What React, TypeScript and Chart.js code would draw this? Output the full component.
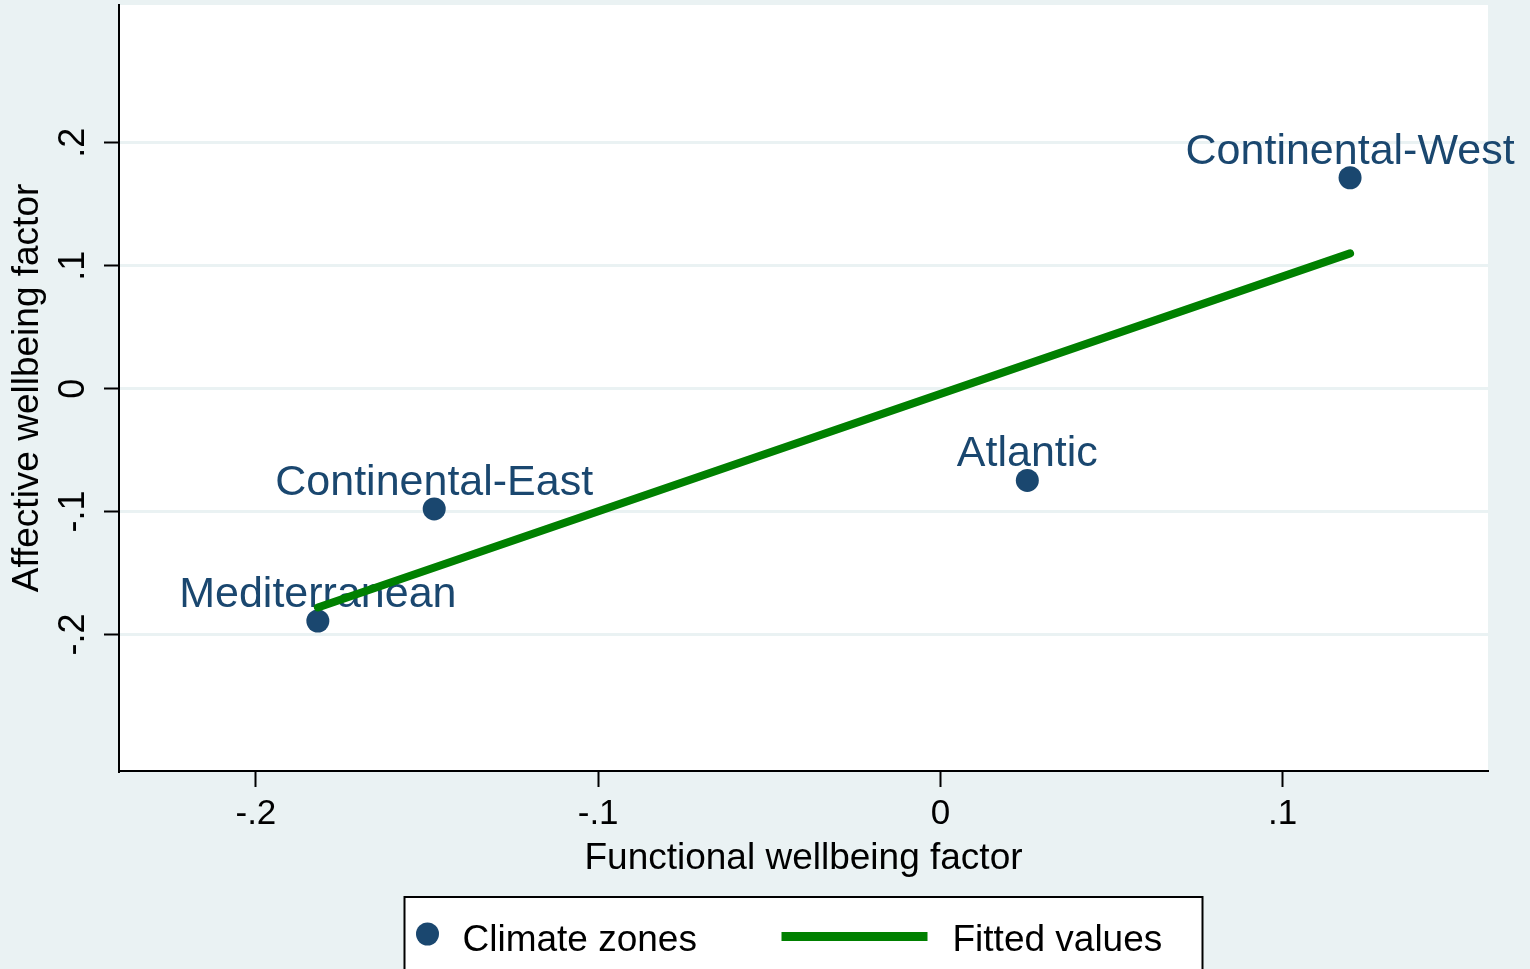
import React, { useEffect, useRef } from "react";
import { Chart, registerables } from "chart.js";

Chart.register(...registerables);

// ---- data ----
const zoneNames = ["Mediterranean", "Continental-East", "Atlantic", "Continental-West"];
const functionalValues = [-0.1819, -0.1479, 0.0254, 0.1197];
const affectiveValues = [-0.189, -0.0979, -0.0747, 0.1715];
const fittedX = [-0.1819, 0.1197];
const fittedY = [-0.178, 0.11];
const xTickValues = [-0.2, -0.1, 0, 0.1];
const xTickLabels = ["-.2", "-.1", "0", ".1"];
const yTickValues = [-0.2, -0.1, 0, 0.1, 0.2];
const yTickLabels = ["-.2", "-.1", "0", ".1", ".2"];
const seriesNames = ["Climate zones", "Fitted values"];
const xTitle = "Functional wellbeing factor";
const yTitle = "Affective wellbeing factor";
const xRange = [-0.24, 0.16];
const yRange = [-0.311, 0.312];

// ---- styles ----
const FONT = '"Liberation Sans", Arial, Helvetica, sans-serif';
const NAVY = "#1a476f";
const GREEN = "#008000";
const BG = "#eaf2f3";

const labelFor = (values: number[], labels: string[], v: number) => {
  const i = values.findIndex((t) => Math.abs(t - v) < 1e-9);
  return i >= 0 ? labels[i] : "";
};

const plotBgPlugin = {
  id: "plotBg",
  beforeDraw(chart: any) {
    const { ctx, chartArea } = chart;
    ctx.save();
    ctx.fillStyle = "#ffffff";
    ctx.fillRect(chartArea.left, chartArea.top, chartArea.right - chartArea.left, chartArea.bottom - chartArea.top);
    ctx.restore();
  },
};

const pointLabelPlugin = {
  id: "pointLabels",
  afterDatasetDraw(chart: any, args: any) {
    if (args.index !== 0) return;
    const ctx = chart.ctx;
    ctx.save();
    ctx.font = `43px ${FONT}`;
    ctx.fillStyle = NAVY;
    ctx.textAlign = "center";
    ctx.textBaseline = "alphabetic";
    args.meta.data.forEach((el: any, i: number) => {
      ctx.fillText(zoneNames[i], el.x, el.y - 14);
    });
    ctx.restore();
  },
};

const legendBoxPlugin = {
  id: "legendBox",
  afterDraw(chart: any) {
    const { ctx, chartArea } = chart;
    const ds = chart.data.datasets;
    const cx = (chartArea.left + chartArea.right) / 2;
    const boxW = 798;
    const left = cx - boxW / 2;
    const top = chart.height - 72;
    ctx.save();
    ctx.fillStyle = "#ffffff";
    ctx.fillRect(left, top, boxW, 120);
    ctx.strokeStyle = "#000000";
    ctx.lineWidth = 2;
    ctx.strokeRect(left, top, boxW, 120);
    // marker
    ctx.fillStyle = NAVY;
    ctx.beginPath();
    ctx.arc(left + 23, top + 37, 11.5, 0, Math.PI * 2);
    ctx.fill();
    ctx.font = `37px ${FONT}`;
    ctx.fillStyle = "#000000";
    ctx.textAlign = "left";
    ctx.textBaseline = "alphabetic";
    ctx.fillText(ds[0].label, left + 58, top + 54);
    // line
    ctx.strokeStyle = GREEN;
    ctx.lineWidth = 9;
    ctx.lineCap = "butt";
    ctx.beginPath();
    ctx.moveTo(left + 377, top + 39.5);
    ctx.lineTo(left + 523, top + 39.5);
    ctx.stroke();
    ctx.fillText(ds[1].label, left + 548, top + 54);
    ctx.restore();
  },
};

export default function App() {
  const canvasRef = useRef<HTMLCanvasElement | null>(null);

  useEffect(() => {
    if (!canvasRef.current) return;
    const chart = new Chart(canvasRef.current, {
      type: "scatter",
      data: {
        datasets: [
          {
            label: seriesNames[0],
            data: functionalValues.map((x, i) => ({ x, y: affectiveValues[i] })),
            backgroundColor: NAVY,
            borderWidth: 0,
            pointRadius: 11.5,
            pointHoverRadius: 11.5,
            showLine: false,
            order: 1,
          },
          {
            label: seriesNames[1],
            data: fittedX.map((x, i) => ({ x, y: fittedY[i] })),
            borderColor: GREEN,
            backgroundColor: GREEN,
            borderWidth: 8,
            borderCapStyle: "round",
            pointRadius: 0,
            showLine: true,
            order: 0,
          } as any,
        ],
      },
      options: {
        responsive: false,
        animation: false,
        events: [],
        layout: { autoPadding: false, padding: { left: 6, top: 5, right: 42, bottom: 88 } } as any,
        plugins: {
          legend: { display: false },
          tooltip: { enabled: false },
        },
        scales: {
          x: {
            type: "linear",
            min: xRange[0],
            max: xRange[1],
            afterBuildTicks: (scale: any) => {
              scale.ticks = xTickValues.map((v) => ({ value: v }));
            },
            afterFit: (scale: any) => {
              scale.height = 110;
              scale.paddingLeft = 0;
              scale.paddingRight = 0;
            },
            grid: {
              drawOnChartArea: false,
              drawTicks: true,
              tickLength: 16,
              tickColor: "#000000",
              tickWidth: 2,
            },
            border: { display: true, color: "#000000", width: 2 },
            ticks: {
              color: "#000000",
              font: { family: FONT, size: 35 },
              padding: 6,
              maxRotation: 0,
              minRotation: 0,
              autoSkip: false,
              callback: (v: any) => labelFor(xTickValues, xTickLabels, Number(v)),
            },
            title: {
              display: true,
              text: xTitle,
              color: "#000000",
              font: { family: FONT, size: 37 },
              padding: { top: 0, bottom: 0 },
            },
          },
          y: {
            type: "linear",
            min: yRange[0],
            max: yRange[1],
            afterBuildTicks: (scale: any) => {
              scale.ticks = yTickValues.map((v) => ({ value: v }));
            },
            afterFit: (scale: any) => {
              scale.width = 113;
              scale.paddingTop = 0;
              scale.paddingBottom = 0;
            },
            grid: {
              drawOnChartArea: true,
              color: BG,
              lineWidth: 3,
              drawTicks: true,
              tickLength: 15,
              tickColor: "#000000",
              tickWidth: 2,
            },
            border: { display: true, color: "#000000", width: 2 },
            ticks: {
              color: "#000000",
              font: { family: FONT, size: 36 },
              padding: 9,
              minRotation: 90,
              maxRotation: 90,
              crossAlign: "center",
              autoSkip: false,
              callback: (v: any) => labelFor(yTickValues, yTickLabels, Number(v)),
            },
            title: {
              display: true,
              text: yTitle,
              color: "#000000",
              font: { family: FONT, size: 37 },
              padding: { top: 0, bottom: 0 },
            },
          },
        },
      } as any,
      plugins: [plotBgPlugin, pointLabelPlugin, legendBoxPlugin],
    });
    return () => chart.destroy();
  }, []);

  return (
    <div style={{ position: "fixed", left: 0, top: 0, width: 1530, height: 969, background: BG }}>
      <canvas ref={canvasRef} width={1530} height={969} style={{ display: "block" }} />
    </div>
  );
}
